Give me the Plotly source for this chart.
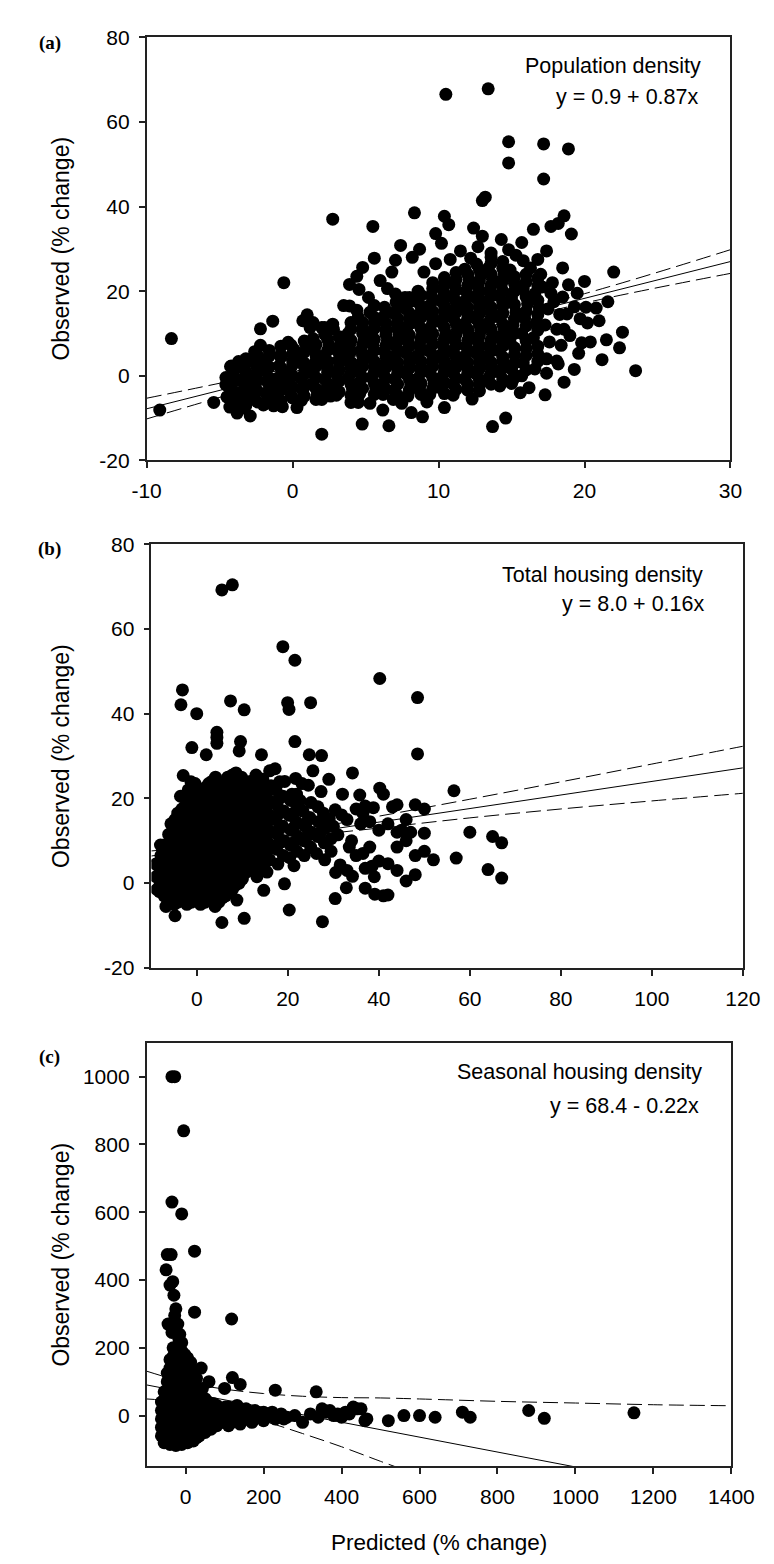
import plotly.graph_objects as go

# ---------------- Panel (a): Population density ----------------
panel_a_sparse = [
    (-9.1, -8.1), (-8.3, 8.8), (-5.4, -6.3), (-0.6, 22.0), (2.75, 37.0), (5.5, 35.3), (5.6, 27.8),
    (8.35, 38.5), (10.4, 37.7), (10.7, 35.7), (9.8, 33.6), (10.2, 31.3), (12.4, 34.9), (13.0, 41.4),
    (13.2, 42.2), (7.4, 30.8), (8.7, 29.9), (8.2, 28.0), (7.05, 27.3), (4.8, 25.6), (4.4, 23.5),
    (3.9, 21.6), (4.55, 20.4), (6.5, 20.6), (7.05, 19.3), (7.7, 18.5), (8.0, 18.5), (3.5, 16.6),
    (3.9, 16.5), (4.4, 15.5), (5.6, 16.6), (1.0, 14.4), (0.7, 13.0), (1.4, 12.6), (1.2, 11.4),
    (2.0, 11.4), (2.2, 11.4), (2.75, 12.2), (-1.36, 12.9), (-2.2, 11.1), (-2.2, 7.2), (-2.6, 5.7),
    (-0.3, 7.9), (-0.1, 7.2), (-3.7, 3.35), (-4.25, 2.2), (-4.57, -0.4), (-4.57, -2.1), (-4.3, -7.4),
    (-3.8, -8.8), (-2.9, -9.5), (-3.4, -7.6), (-2.0, -6.9), (-1.3, -7.1), (-0.7, -7.3), (0.3, -7.5),
    (1.94, -4.8), (2.6, -4.8), (4.0, -6.3), (4.5, -6.3), (4.77, -11.4), (5.3, -6.5), (6.18, -8.1),
    (6.6, -11.8), (7.48, -6.5), (8.13, -8.7), (8.9, -9.7), (10.4, -7.5), (2.0, -13.8), (10.5, 66.5),
    (13.4, 67.8), (14.8, 55.3), (14.8, 50.3), (17.2, 54.8), (17.2, 46.5), (18.9, 53.6), (18.6, 37.8),
    (18.2, 36.0), (17.7, 35.3), (19.1, 33.5), (16.5, 34.6), (13.0, 33.0), (14.3, 32.2), (12.7, 30.5),
    (13.6, 29.0), (15.3, 28.5), (16.8, 27.5), (15.7, 31.5), (17.4, 29.5), (22.0, 24.5), (20.0, 22.3),
    (19.5, 19.5), (21.6, 17.5), (20.1, 16.2), (20.8, 16.0), (22.6, 10.3), (23.5, 1.2), (22.4, 6.6),
    (21.5, 8.5), (20.4, 8.0), (21.2, 3.8), (19.6, 5.3), (19.8, 7.8), (20.2, 12.5), (17.3, -4.5),
    (15.0, -1.8), (14.6, -10.0), (13.7, -12.0), (18.6, 11.0), (18.1, 3.5), (18.8, 14.6), (19.3, 16.3),
    (17.8, 22.0), (18.5, 25.5),
    (5.2, 18.5), (6.0, 22.5), (6.8, 24.5), (9.0, 24.5), (9.8, 26.5), (10.8, 27.5), (11.5, 29.5),
    (12.2, 27.8), (14.8, 29.8), (15.8, 27.2), (16.3, 25.5), (17.0, 24.0), (17.9, 17.5), (17.1, 21.0),
    (18.9, 21.5), (19.7, 13.5), (19.0, 9.5), (19.3, 1.5), (18.6, -1.5), (16.2, -2.8), (12.3, -5.5),
    (9.2, -6.2), (6.9, -5.6), (15.6, -4.0), (21.0, 13.0),
]
panel_a_core = [
    (-4.4, -2.5), (-4.1, 0.5), (-4.5, -5.0), (-3.9, -4.2), (-4.2, 2.3),
    (-3.5, -1.0), (-3.3, 1.8), (-3.6, -5.5), (-3.2, 4.0), (-3.4, -3.5),
    (-2.7, 0.0), (-2.5, 2.6), (-2.8, -2.8), (-2.6, -5.6), (-2.4, 4.8),
    (-1.9, 1.2), (-1.7, -1.5), (-2.0, 3.8), (-1.8, -4.2), (-1.6, 6.0),
    (-1.0, -0.5), (-0.9, 2.4), (-1.2, -3.2), (-0.8, 5.0), (-1.1, -5.6),
    (-0.2, 1.0), (0.0, 3.6), (-0.3, -2.0), (0.1, 6.2), (-0.1, -4.6),
    (0.6, -0.6), (0.8, 2.2), (0.5, 4.8), (0.7, -3.4), (0.9, 7.5), (0.6, -5.8),
    (1.4, 0.6), (1.6, 3.4), (1.3, -2.0), (1.5, 6.0), (1.7, -4.4), (1.4, 8.8),
    (2.2, -0.8), (2.4, 1.8), (2.1, 4.6), (2.3, -3.2), (2.5, 7.2), (2.2, 9.8), (2.0, -5.6),
    (3.0, 0.4), (3.2, 3.0), (2.9, -2.2), (3.1, 5.8), (3.3, 8.4), (3.0, -4.6), (2.8, 11.0),
    (3.8, -0.6), (4.0, 2.0), (3.7, 4.6), (3.9, 7.2), (4.1, -3.0), (3.8, 10.0), (4.0, 12.6),
    (4.6, 0.8), (4.8, 3.4), (4.5, -1.8), (4.7, 6.0), (4.9, 8.6), (4.6, -4.2), (4.8, 11.2), (4.5, 13.8),
    (5.4, -0.4), (5.6, 2.2), (5.3, 4.8), (5.5, 7.4), (5.7, -3.0), (5.4, 10.0), (5.6, 12.6), (5.3, 15.0),
    (6.2, 0.6), (6.4, 3.2), (6.1, -2.0), (6.3, 5.8), (6.5, 8.4), (6.2, -4.4), (6.4, 11.0), (6.1, 13.6), (6.3, 16.2),
    (7.0, -0.8), (7.2, 1.8), (6.9, 4.4), (7.1, 7.0), (7.3, 9.6), (7.0, -3.4), (7.2, 12.2), (6.9, 14.8), (7.1, 17.4),
    (7.8, 0.4), (8.0, 3.0), (7.7, 5.6), (7.9, 8.2), (8.1, -2.2), (7.8, 10.8), (8.0, 13.4), (7.7, 16.0), (7.9, -4.8),
    (8.6, -0.6), (8.8, 2.0), (8.5, 4.6), (8.7, 7.2), (8.9, 9.8), (8.6, 12.4), (8.8, 15.0), (8.5, 17.6), (8.7, -3.2), (8.6, 20.0),
    (9.4, 0.8), (9.6, 3.4), (9.3, 6.0), (9.5, 8.6), (9.7, -1.8), (9.4, 11.2), (9.6, 13.8), (9.3, 16.4), (9.5, 19.0), (9.4, -4.4), (9.6, 22.0),
    (10.2, -0.4), (10.4, 2.2), (10.1, 4.8), (10.3, 7.4), (10.5, 10.0), (10.2, 12.6), (10.4, 15.2), (10.1, 17.8), (10.3, 20.4), (10.2, -3.0), (10.4, 23.2),
    (11.0, 0.6), (11.2, 3.2), (10.9, 5.8), (11.1, 8.4), (11.3, 11.0), (11.0, 13.6), (11.2, 16.2), (10.9, 18.8), (11.1, 21.4), (11.0, -2.0), (11.2, 24.4), (11.0, -4.6),
    (11.8, -0.8), (12.0, 1.8), (11.7, 4.4), (11.9, 7.0), (12.1, 9.6), (11.8, 12.2), (12.0, 14.8), (11.7, 17.4), (11.9, 20.0), (12.1, 22.6), (11.8, 25.2), (12.0, -3.4),
    (12.6, 0.4), (12.8, 3.0), (12.5, 5.6), (12.7, 8.2), (12.9, 10.8), (12.6, 13.4), (12.8, 16.0), (12.5, 18.6), (12.7, 21.2), (12.9, 23.8), (12.6, 26.4), (12.8, -2.2),
    (13.4, -0.6), (13.6, 2.0), (13.3, 4.6), (13.5, 7.2), (13.7, 9.8), (13.4, 12.4), (13.6, 15.0), (13.3, 17.6), (13.5, 20.2), (13.7, 22.8), (13.4, 25.4), (13.6, 28.0),
    (14.2, 0.8), (14.4, 3.4), (14.1, 6.0), (14.3, 8.6), (14.5, 11.2), (14.2, 13.8), (14.4, 16.4), (14.1, 19.0), (14.3, 21.6), (14.5, 24.2), (14.2, -2.4), (14.4, 27.0),
    (15.0, 1.6), (15.2, 5.0), (14.9, 8.0), (15.1, 12.0), (15.3, 15.0), (15.0, 18.4), (15.2, 21.8), (14.9, 25.0), (15.1, -1.0),
    (15.8, 3.0), (16.0, 6.4), (15.7, 10.0), (15.9, 13.6), (16.1, 17.0), (15.8, 20.5), (16.0, 24.0), (15.7, 0.0),
    (16.6, 1.6), (16.8, 5.2), (16.5, 9.0), (16.7, 12.6), (16.9, 16.0), (16.6, 19.4), (16.8, 23.0),
    (17.4, 4.0), (17.6, 8.0), (17.3, 12.0), (17.5, 15.8), (17.7, 19.5), (17.4, 0.6),
    (18.2, 2.8), (18.4, 7.2), (18.1, 11.0), (18.3, 14.5), (18.5, 18.6),
]
panel_a_core2 = [
    (-4.0, -6.5), (-4.0, -3.9), (-4.0, -1.3), (-4.0, 1.3),
    (-3.2, -7.0), (-3.2, -4.4), (-3.2, -1.8), (-3.2, 0.8), (-3.2, 3.4),
    (-2.4, -6.2), (-2.4, -3.6), (-2.4, -1.0), (-2.4, 1.6), (-2.4, 4.2),
    (-1.6, -5.7), (-1.6, -3.1), (-1.6, -0.5), (-1.6, 2.1), (-1.6, 4.7),
    (-0.8, -6.0), (-0.8, -3.4), (-0.8, -0.8), (-0.8, 1.8), (-0.8, 4.4), (-0.8, 7.0),
    (0.0, -5.2), (0.0, -2.6), (0.0, 0.0), (0.0, 2.6), (0.0, 5.2),
    (0.8, -4.8), (0.8, -2.2), (0.8, 0.4), (0.8, 3.0), (0.8, 5.6), (0.8, 8.2),
    (1.6, -5.6), (1.6, -3.0), (1.6, -0.4), (1.6, 2.2), (1.6, 4.8), (1.6, 7.4),
    (2.4, -4.4), (2.4, -1.8), (2.4, 0.8), (2.4, 3.4), (2.4, 6.0), (2.4, 8.6),
    (3.2, -3.8), (3.2, -1.2), (3.2, 1.4), (3.2, 4.0), (3.2, 6.6), (3.2, 9.2),
    (4.0, -4.6), (4.0, -2.0), (4.0, 0.6), (4.0, 3.2), (4.0, 5.8), (4.0, 8.4), (4.0, 11.0),
    (4.8, -3.0), (4.8, -0.4), (4.8, 2.2), (4.8, 4.8), (4.8, 7.4), (4.8, 10.0), (4.8, 12.6),
    (5.6, -4.4), (5.6, -1.8), (5.6, 0.8), (5.6, 3.4), (5.6, 6.0), (5.6, 8.6), (5.6, 11.2), (5.6, 13.8),
    (6.4, -3.2), (6.4, -0.6), (6.4, 2.0), (6.4, 4.6), (6.4, 7.2), (6.4, 9.8), (6.4, 12.4), (6.4, 15.0),
    (7.2, -4.6), (7.2, -2.0), (7.2, 0.6), (7.2, 3.2), (7.2, 5.8), (7.2, 8.4), (7.2, 11.0), (7.2, 13.6), (7.2, 16.2),
    (8.0, -3.4), (8.0, -0.8), (8.0, 1.8), (8.0, 4.4), (8.0, 7.0), (8.0, 9.6), (8.0, 12.2), (8.0, 14.8), (8.0, 17.4),
    (8.8, -4.4), (8.8, -1.8), (8.8, 0.8), (8.8, 3.4), (8.8, 6.0), (8.8, 8.6), (8.8, 11.2), (8.8, 13.8), (8.8, 16.4), (8.8, 19.0),
    (9.6, -3.0), (9.6, -0.4), (9.6, 2.2), (9.6, 4.8), (9.6, 7.4), (9.6, 10.0), (9.6, 12.6), (9.6, 15.2), (9.6, 17.8), (9.6, 20.6),
    (10.4, -4.2), (10.4, -1.6), (10.4, 1.0), (10.4, 3.6), (10.4, 6.2), (10.4, 8.8), (10.4, 11.4), (10.4, 14.0), (10.4, 16.6), (10.4, 19.2), (10.4, 21.8),
    (11.2, -3.2), (11.2, -0.6), (11.2, 2.0), (11.2, 4.6), (11.2, 7.2), (11.2, 9.8), (11.2, 12.4), (11.2, 15.0), (11.2, 17.6), (11.2, 20.2), (11.2, 22.8),
    (12.0, -2.0), (12.0, 0.6), (12.0, 3.2), (12.0, 5.8), (12.0, 8.4), (12.0, 11.0), (12.0, 13.6), (12.0, 16.2), (12.0, 18.8), (12.0, 21.4), (12.0, 24.0),
    (12.8, -3.6), (12.8, -1.0), (12.8, 1.6), (12.8, 4.2), (12.8, 6.8), (12.8, 9.4), (12.8, 12.0), (12.8, 14.6), (12.8, 17.2), (12.8, 19.8), (12.8, 22.4), (12.8, 25.0),
    (13.6, -2.0), (13.6, 0.6), (13.6, 3.2), (13.6, 5.8), (13.6, 8.4), (13.6, 11.0), (13.6, 13.6), (13.6, 16.2), (13.6, 18.8), (13.6, 21.4), (13.6, 24.0), (13.6, 26.6),
    (14.4, -0.8), (14.4, 1.8), (14.4, 4.4), (14.4, 7.0), (14.4, 9.6), (14.4, 12.2), (14.4, 14.8), (14.4, 17.4), (14.4, 20.0), (14.4, 22.6), (14.4, 25.4),
    (15.2, 0.2), (15.2, 3.0), (15.2, 6.6), (15.2, 10.0), (15.2, 13.4), (15.2, 16.8), (15.2, 20.0), (15.2, 23.4),
    (16.0, 1.4), (16.0, 4.8), (16.0, 8.2), (16.0, 11.8), (16.0, 15.2), (16.0, 18.6), (16.0, 22.2),
    (16.8, 3.4), (16.8, 7.0), (16.8, 10.8), (16.8, 14.4), (16.8, 17.8), (16.8, 21.2),
]
a_intercept, a_slope = 0.9, 0.87
a_line_x = [-10, 30]
a_band_x = [-10, 0, 10, 20, 30]
a_band_upper = [-5.3, 2.0, 10.7, 19.4, 29.8]
a_band_lower = [-10.2, -0.2, 8.6, 17.2, 24.2]
a_xticks = [-10, 0, 10, 20, 30]
a_xlabels = ["-10", "0", "10", "20", "30"]
a_yticks = [-20, 0, 20, 40, 60, 80]
a_ylabels = ["-20", "0", "20", "40", "60", "80"]

# ---------------- Panel (b): Total housing density ----------------
panel_b_sparse = [
    (-3.17, 45.6), (-3.5, 42.1), (-0.03, 40.0), (7.4, 43.0), (10.4, 40.9), (18.9, 55.8), (21.55, 52.6),
    (19.95, 42.6), (20.25, 41.0), (25.0, 42.6), (21.55, 33.4), (4.4, 35.6), (4.4, 34.4), (4.4, 33.0),
    (9.6, 33.4), (9.3, 31.2), (-1.1, 32.0), (2.06, 30.3), (14.2, 30.3), (24.7, 30.3), (27.4, 30.1),
    (34.2, 26.0), (-3.0, 25.4), (-1.3, 23.9), (40.2, 48.3), (-4.8, -7.7), (5.5, -9.3), (10.4, -8.3),
    (20.3, -6.35), (27.6, -9.1), (30.4, -3.65), (32.85, -1.1), (37.0, -1.2), (39.1, -2.6), (15.4, 2.6),
    (19.26, -0.16), (21.35, 4.1), (8.8, -4.0), (14.7, -1.7), (34.2, 1.6), (30.5, 2.5), (31.5, 4.3),
    (33.0, 3.0), (35.8, 20.8), (38.8, 17.8), (40.2, 22.4), (36.5, 16.5), (35.0, 17.5), (37.0, 18.2),
    (30.4, 17.3), (31.8, 16.1), (29.1, 15.2), (30.0, 13.4), (31.0, 11.4), (33.5, 8.5), (35.0, 6.5),
    (36.5, 7.0), (38.0, 8.5), (38.5, 4.0), (37.0, 3.5), (39.0, 1.5), (17.2, 27.0), (18.2, 23.9),
    (21.7, 24.7), (23.1, 23.5), (24.5, 23.1), (27.3, 21.6), (20.9, 21.0), (22.7, 19.5),
    (5.5, 69.2), (7.8, 70.4), (48.5, 43.8), (48.5, 30.5), (41.0, 21.0), (43.0, 18.0), (45.0, 12.5),
    (50.0, 17.5), (52.0, 5.5), (57.0, 5.9), (56.5, 21.8), (60.0, 12.0), (64.0, 3.2), (65.0, 11.0),
    (67.0, 9.5), (67.0, 1.2), (44.0, 18.5), (42.0, 14.0), (44.0, 12.0), (46.0, 15.0), (47.0, 12.0),
    (48.0, 18.5), (50.0, 11.8), (46.0, 10.0), (44.0, 8.5), (40.0, 12.5), (38.0, 14.5), (36.0, 14.0),
    (33.0, 15.0), (34.0, 10.0), (40.0, 5.2), (42.0, 4.6), (44.0, 3.0), (46.0, 0.5), (48.0, 2.0),
    (41.0, -3.0), (42.0, -2.8), (48.0, 6.5), (50.0, 7.5), (32.0, 21.0), (25.5, 26.5), (29.0, 24.5),
]
panel_b_core = [
    (-9.0, 1.5), (-9.0, 4.5), (-8.8, -1.5),
    (-8.2, -2.0), (-7.8, 1.0), (-8.4, 4.0), (-7.9, 6.5), (-8.1, -0.5), (-8.0, 9.0),
    (-6.5, -3.5), (-6.3, -0.5), (-6.7, 2.5), (-6.4, 5.5), (-6.6, 8.5), (-6.2, 11.5), (-6.8, -5.5),
    (-5.0, -2.0), (-4.8, 1.0), (-5.2, 4.0), (-4.9, 7.0), (-5.1, 10.0), (-4.7, 13.0), (-5.0, -5.0), (-4.8, 15.0),
    (-3.5, -0.5), (-3.3, 2.5), (-3.7, 5.5), (-3.4, 8.5), (-3.6, 11.5), (-3.2, 14.5), (-3.5, -3.5), (-3.3, 17.5), (-3.6, 20.5),
    (-2.0, 1.0), (-1.8, 4.0), (-2.2, 7.0), (-1.9, 10.0), (-2.1, 13.0), (-1.7, 16.0), (-2.0, -2.0), (-1.8, 19.0), (-2.2, -5.0), (-1.9, 22.0),
    (-0.5, -0.5), (-0.3, 2.5), (-0.7, 5.5), (-0.4, 8.5), (-0.6, 11.5), (-0.2, 14.5), (-0.5, 17.5), (-0.3, 20.5), (-0.7, -3.5), (-0.4, 23.5),
    (1.0, 1.0), (1.2, 4.0), (0.8, 7.0), (1.1, 10.0), (0.9, 13.0), (1.3, 16.0), (1.0, 19.0), (1.2, -2.0), (0.8, -5.0), (1.1, 22.0),
    (2.5, -0.5), (2.7, 2.5), (2.3, 5.5), (2.6, 8.5), (2.4, 11.5), (2.8, 14.5), (2.5, 17.5), (2.7, 20.5), (2.3, -3.5), (2.6, 23.5),
    (4.0, 1.0), (4.2, 4.0), (3.8, 7.0), (4.1, 10.0), (3.9, 13.0), (4.3, 16.0), (4.0, 19.0), (4.2, 22.0), (3.8, -2.0), (4.1, 25.0), (4.0, -5.5),
    (5.5, -0.5), (5.7, 2.5), (5.3, 5.5), (5.6, 8.5), (5.4, 11.5), (5.8, 14.5), (5.5, 17.5), (5.7, 20.5), (5.3, 23.5), (5.6, -3.5),
    (7.0, 1.0), (7.2, 4.0), (6.8, 7.0), (7.1, 10.0), (6.9, 13.0), (7.3, 16.0), (7.0, 19.0), (7.2, 22.0), (6.8, 25.0), (7.1, -2.0),
    (8.5, -0.5), (8.7, 2.5), (8.3, 5.5), (8.6, 8.5), (8.4, 11.5), (8.8, 14.5), (8.5, 17.5), (8.7, 20.5), (8.3, 23.5), (8.6, 26.0),
    (10.0, 1.0), (10.2, 4.0), (9.8, 7.0), (10.1, 10.0), (9.9, 13.0), (10.3, 16.0), (10.0, 19.0), (10.2, 22.0), (9.8, 25.0),
    (11.5, 3.0), (11.7, 6.0), (11.3, 9.0), (11.6, 12.0), (11.4, 15.0), (11.8, 18.0), (11.5, 21.0), (11.7, 24.0),
    (13.0, 5.0), (13.2, 8.5), (12.8, 12.0), (13.1, 15.0), (12.9, 18.5), (13.3, 22.0), (13.0, 25.5), (13.2, 1.5),
    (14.5, 7.0), (14.7, 10.5), (14.3, 14.0), (14.6, 17.5), (14.4, 21.0), (14.8, 3.5), (14.5, 24.5),
    (16.0, 5.5), (16.2, 9.0), (15.8, 12.5), (16.1, 16.0), (15.9, 19.5), (16.3, 23.0), (16.0, 26.5),
    (17.5, 8.0), (17.7, 11.5), (17.3, 15.0), (17.6, 18.5), (17.4, 22.0), (17.8, 4.5),
    (19.0, 6.5), (19.2, 10.0), (18.8, 13.5), (19.1, 17.0), (18.9, 20.5), (19.3, 24.0),
    (20.5, 9.0), (20.7, 12.5), (20.3, 16.0), (20.6, 19.5), (20.4, 6.0),
    (22.0, 7.5), (22.2, 11.0), (21.8, 14.5), (22.1, 18.0), (21.9, 21.0),
    (23.5, 10.0), (23.7, 13.5), (23.3, 17.0), (23.6, 6.5),
    (25.0, 8.5), (25.2, 12.0), (24.8, 15.5), (25.1, 19.0),
    (26.5, 11.0), (26.7, 14.5), (26.3, 7.0), (26.6, 18.0),
    (28.0, 9.5), (28.2, 13.0), (27.8, 16.5), (28.1, 5.5),
    (-7.2, -3.0), (-7.2, 0.0), (-7.2, 3.0), (-7.2, 6.0), (-7.2, 9.0),
    (-5.7, -4.0), (-5.7, -1.0), (-5.7, 2.0), (-5.7, 5.0), (-5.7, 8.0), (-5.7, 11.0), (-5.7, 14.0),
    (-4.2, -4.5), (-4.2, -1.5), (-4.2, 1.5), (-4.2, 4.5), (-4.2, 7.5), (-4.2, 10.5), (-4.2, 13.5), (-4.2, 16.5),
    (-2.7, -3.0), (-2.7, 0.0), (-2.7, 3.0), (-2.7, 6.0), (-2.7, 9.0), (-2.7, 12.0), (-2.7, 15.0), (-2.7, 18.0),
    (-1.2, -4.5), (-1.2, -1.5), (-1.2, 1.5), (-1.2, 4.5), (-1.2, 7.5), (-1.2, 10.5), (-1.2, 13.5), (-1.2, 16.5), (-1.2, 19.5),
    (0.3, -3.0), (0.3, 0.0), (0.3, 3.0), (0.3, 6.0), (0.3, 9.0), (0.3, 12.0), (0.3, 15.0), (0.3, 18.0), (0.3, 21.0),
    (1.8, -4.5), (1.8, -1.5), (1.8, 1.5), (1.8, 4.5), (1.8, 7.5), (1.8, 10.5), (1.8, 13.5), (1.8, 16.5), (1.8, 19.5), (1.8, 22.5),
    (3.3, -3.0), (3.3, 0.0), (3.3, 3.0), (3.3, 6.0), (3.3, 9.0), (3.3, 12.0), (3.3, 15.0), (3.3, 18.0), (3.3, 21.0), (3.3, 24.0),
    (4.8, -4.5), (4.8, -1.5), (4.8, 1.5), (4.8, 4.5), (4.8, 7.5), (4.8, 10.5), (4.8, 13.5), (4.8, 16.5), (4.8, 19.5), (4.8, 22.5),
    (6.3, -3.0), (6.3, 0.0), (6.3, 3.0), (6.3, 6.0), (6.3, 9.0), (6.3, 12.0), (6.3, 15.0), (6.3, 18.0), (6.3, 21.0), (6.3, 24.0),
    (7.8, -1.5), (7.8, 1.5), (7.8, 4.5), (7.8, 7.5), (7.8, 10.5), (7.8, 13.5), (7.8, 16.5), (7.8, 19.5), (7.8, 22.5), (7.8, 25.5),
    (9.3, 0.0), (9.3, 3.0), (9.3, 6.0), (9.3, 9.0), (9.3, 12.0), (9.3, 15.0), (9.3, 18.0), (9.3, 21.0), (9.3, 24.0),
    (10.8, 2.5), (10.8, 5.5), (10.8, 8.5), (10.8, 11.5), (10.8, 14.5), (10.8, 17.5), (10.8, 20.5), (10.8, 23.5),
    (12.3, 3.5), (12.3, 6.5), (12.3, 9.5), (12.3, 13.5), (12.3, 16.5), (12.3, 20.0), (12.3, 23.5),
    (13.8, 6.0), (13.8, 9.5), (13.8, 13.0), (13.8, 16.5), (13.8, 20.0), (13.8, 23.0),
    (15.3, 7.5), (15.3, 11.0), (15.3, 14.5), (15.3, 18.0), (15.3, 21.5),
    (18.2, 9.5), (18.2, 13.0), (18.2, 16.5), (18.2, 20.0),
    (21.2, 9.5), (21.2, 13.0), (21.2, 16.5),
    (24.2, 11.0), (24.2, 14.5), (27.2, 12.0), (29.5, 10.5), (29.5, 7.5),
]
b_intercept, b_slope = 8.0, 0.16
b_line_x = [-10, 120]
b_band_x = [-10, 0, 20, 40, 60, 80, 100, 120]
b_band_upper = [7.6, 8.6, 12.0, 15.8, 19.8, 23.9, 28.1, 32.3]
b_band_lower = [5.2, 7.4, 10.6, 13.0, 15.4, 17.5, 19.4, 21.2]
b_xticks = [0, 20, 40, 60, 80, 100, 120]
b_xlabels = ["0", "20", "40", "60", "80", "100", "120"]
b_yticks = [-20, 0, 20, 40, 60, 80]
b_ylabels = ["-20", "0", "20", "40", "60", "80"]

# ---------------- Panel (c): Seasonal housing density ----------------
panel_c_sparse = [
    (-35, 1000), (-28, 1000), (-5, 840), (-35, 630), (-10, 595), (23, 485), (-47, 475), (-37, 475),
    (-50, 430), (-40, 385), (-33, 395), (-30, 355), (-25, 315), (-28, 295), (-45, 270), (-20, 270),
    (-35, 245), (-15, 240), (23, 305), (118, 285), (120, 112), (140, 92), (230, 75), (335, 70),
    (100, 80), (60, 100), (40, 140), (350, 20), (370, 15), (390, 5), (410, 10), (430, 25), (450, 20),
    (465, -10), (520, -15), (560, 0), (600, 0), (640, -5), (710, 10), (730, -5), (880, 15), (920, -8),
    (1150, 8),
]
panel_c_core = [
    (-55, -80), (-55, -55), (-55, -30), (-55, -5), (-55, 20), (-55, 45), (-55, 70),
    (-40, -85), (-40, -60), (-40, -35), (-40, -10), (-40, 15), (-40, 40), (-40, 65), (-40, 90), (-40, 115), (-40, 140), (-40, 165),
    (-25, -88), (-25, -63), (-25, -38), (-25, -13), (-25, 12), (-25, 37), (-25, 62), (-25, 87), (-25, 112), (-25, 137), (-25, 162), (-25, 187),
    (-10, -85), (-10, -60), (-10, -35), (-10, -10), (-10, 15), (-10, 40), (-10, 65), (-10, 90), (-10, 115), (-10, 140), (-10, 165), (-10, 190), (-10, 215),
    (5, -80), (5, -55), (5, -30), (5, -5), (5, 20), (5, 45), (5, 70), (5, 95), (5, 120), (5, 145), (5, 170),
    (20, -75), (20, -50), (20, -25), (20, 0), (20, 25), (20, 50), (20, 75), (20, 100), (20, 125),
    (35, -60), (35, -35), (35, -10), (35, 15), (35, 40), (35, 65),
    (50, -50), (50, -25), (50, 0), (50, 25), (50, 50),
    (-62, -60), (-62, -35), (-62, -10), (-62, 15), (-62, 40),
    (-47, -75), (-47, -50), (-47, -25), (-47, 0), (-47, 25), (-47, 50), (-47, 75), (-47, 100), (-47, 125),
    (-32, -75), (-32, -50), (-32, -25), (-32, 0), (-32, 25), (-32, 50), (-32, 75), (-32, 100), (-32, 125), (-32, 150), (-32, 175), (-32, 200),
    (-17, -75), (-17, -50), (-17, -25), (-17, 0), (-17, 25), (-17, 50), (-17, 75), (-17, 100), (-17, 125), (-17, 150), (-17, 175), (-17, 200), (-17, 225),
    (-2, -70), (-2, -45), (-2, -20), (-2, 5), (-2, 30), (-2, 55), (-2, 80), (-2, 105), (-2, 130), (-2, 155), (-2, 180),
    (13, -68), (13, -43), (13, -18), (13, 7), (13, 32), (13, 57), (13, 82), (13, 107), (13, 132), (13, 157),
    (28, -65), (28, -40), (28, -15), (28, 10), (28, 35), (28, 60), (28, 85), (28, 110),
    (43, -45), (43, -20), (43, 5), (43, 30), (43, 55), (43, 80),
    (58, -35), (58, -10), (58, 15), (58, 40),
    (65, -40), (65, -10), (65, 20), (80, -30), (80, 0), (80, 30), (95, -20), (95, 10), (110, -30),
    (110, 0), (110, 25), (125, -15), (125, 15), (140, -25), (140, 5), (155, -10), (155, 20), (170, -20),
    (170, 5), (185, -5), (200, -15), (200, 10), (215, 0), (230, -10), (245, 5), (260, -5), (280, 0),
    (300, -20), (320, 5), (340, -5), (360, 10), (380, 0), (400, -5), (420, 5), (440, 20), (460, -15),
    (72, -25), (72, 5), (72, 35), (88, -15), (88, 15), (102, -5), (102, 25), (118, -20), (118, 8),
    (132, 0), (132, 30), (148, -12), (148, 15), (162, 0), (178, -10), (178, 15), (192, 5), (208, -5),
    (222, 10), (238, 0), (252, -10),
]
c_intercept, c_slope = 68.4, -0.22
c_line_x = [-100, 1400]
c_upper_x = [-100, 0, 100, 200, 300, 400, 500, 600, 800, 1000, 1200, 1400]
c_upper_y = [131, 98, 78, 65, 57, 53, 52, 49, 42, 37, 32, 29]
c_lower_x = [-100, 0, 100, 200, 300, 400, 500, 560]
c_lower_y = [49, 39, 15, -16, -53, -92, -135, -160]
c_xticks = [0, 200, 400, 600, 800, 1000, 1200, 1400]
c_xlabels = ["0", "200", "400", "600", "800", "1000", "1200", "1400"]
c_yticks = [0, 200, 400, 600, 800, 1000]
c_ylabels = ["0", "200", "400", "600", "800", "1000"]

# ---------------- Build figure ----------------
fig = go.Figure()
MARK = dict(size=13, color="black", line=dict(width=0))
DASH = "15px,6px"


def add_panel(points, line_x, intercept, slope, ux, uy, lx, ly, xa, ya):
    # regression line and confidence bands first, points drawn on top
    fig.add_trace(go.Scatter(x=line_x, y=[intercept + slope * v for v in line_x], mode="lines",
                             line=dict(color="black", width=1), xaxis=xa, yaxis=ya, showlegend=False))
    fig.add_trace(go.Scatter(x=ux, y=uy, mode="lines",
                             line=dict(color="black", width=1, dash=DASH, shape="spline"),
                             xaxis=xa, yaxis=ya, showlegend=False))
    fig.add_trace(go.Scatter(x=lx, y=ly, mode="lines",
                             line=dict(color="black", width=1, dash=DASH, shape="spline"),
                             xaxis=xa, yaxis=ya, showlegend=False))
    fig.add_trace(go.Scatter(x=[p[0] for p in points], y=[p[1] for p in points], mode="markers",
                             marker=MARK, xaxis=xa, yaxis=ya, showlegend=False, hoverinfo="skip"))


add_panel(panel_a_sparse + panel_a_core + panel_a_core2, a_line_x, a_intercept, a_slope,
          a_band_x, a_band_upper, a_band_x, a_band_lower, "x", "y")
add_panel(panel_b_sparse + panel_b_core, b_line_x, b_intercept, b_slope,
          b_band_x, b_band_upper, b_band_x, b_band_lower, "x2", "y2")
add_panel(panel_c_sparse + panel_c_core, c_line_x, c_intercept, c_slope,
          c_upper_x, c_upper_y, c_lower_x, c_lower_y, "x3", "y3")

W, H = 774, 1564
FONT = "Liberation Sans, Arial, sans-serif"
AX = dict(showline=True, linecolor="#222", linewidth=1.5, mirror=True, ticks="outside", ticklen=6,
          tickwidth=1.5, tickcolor="#222", showgrid=False, zeroline=False, tickmode="array",
          tickfont=dict(family=FONT, size=21, color="black"))


def px(v):
    return v / W


def py(v):
    return 1 - v / H


fig.update_layout(
    width=W, height=H, margin=dict(l=0, r=0, t=0, b=0),
    paper_bgcolor="white", plot_bgcolor="white", showlegend=False,
    xaxis=dict(AX, domain=[px(130), px(744)], range=[-10, 30], tickvals=a_xticks, ticktext=a_xlabels,
               anchor="y", ticklabelstandoff=5),
    yaxis=dict(AX, domain=[py(447), py(17.5)], range=[-20, 80], tickvals=a_yticks, ticktext=a_ylabels,
               anchor="x", ticklabelstandoff=5),
    xaxis2=dict(AX, domain=[px(135), px(757)], range=[-10, 120], tickvals=b_xticks, ticktext=b_xlabels,
                anchor="y2", ticklabelstandoff=5),
    yaxis2=dict(AX, domain=[py(962), py(532)], range=[-20, 80], tickvals=b_yticks, ticktext=b_ylabels,
                anchor="x2", ticklabelstandoff=5),
    xaxis3=dict(AX, domain=[px(130), px(745)], range=[-100, 1400], tickvals=c_xticks, ticktext=c_xlabels,
                anchor="y3", ticklabelstandoff=5),
    yaxis3=dict(AX, domain=[py(1468), py(1038)], range=[-150, 1100], tickvals=c_yticks, ticktext=c_ylabels,
                anchor="x3", ticklabelstandoff=5),
)

ann = []
TF = dict(family=FONT, size=21.5, color="black")
for label, yc in [("(a)", 23), ("(b)", 537), ("(c)", 1052)]:
    ann.append(dict(text="<b>%s</b>" % label, x=px(28), y=py(yc), xref="paper", yref="paper",
                    showarrow=False, xanchor="center", yanchor="middle",
                    font=dict(family="Liberation Serif, Times New Roman, serif", size=19, color="black")))
for yc in [232, 747, 1253]:
    ann.append(dict(text="Observed (% change)", x=px(40), y=py(yc), xref="paper", yref="paper",
                    showarrow=False, textangle=-90, xanchor="center", yanchor="middle",
                    font=dict(family=FONT, size=23, color="black")))
ann.append(dict(text="Predicted (% change)", x=px(437), y=py(1545), xref="paper", yref="paper",
                showarrow=False, xanchor="center", yanchor="middle",
                font=dict(family=FONT, size=22.5, color="black")))
for txt, xr, yc in [("Population density", 715, 47), ("y = 0.9 + 0.87x", 712, 78),
                    ("Total housing density", 717, 563), ("y = 8.0 + 0.16x", 718, 593),
                    ("Seasonal housing density", 716, 1068), ("y = 68.4 - 0.22x", 713, 1102)]:
    ann.append(dict(text=txt, x=px(xr), y=py(yc), xref="paper", yref="paper", showarrow=False,
                    xanchor="right", yanchor="middle", font=TF))
fig.update_layout(annotations=ann)

fig.write_html("out.html")
